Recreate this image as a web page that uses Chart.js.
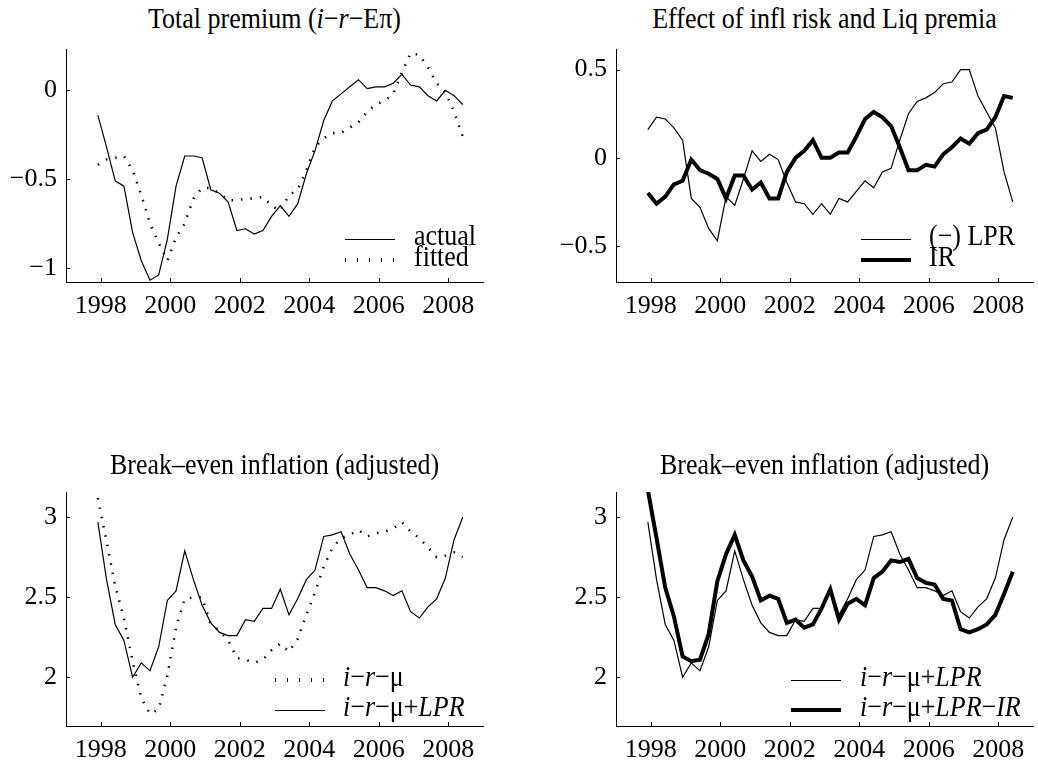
<!DOCTYPE html>
<html>
<head>
<meta charset="utf-8">
<script src="https://cdn.jsdelivr.net/npm/chart.js@4.4.0/dist/chart.umd.min.js"></script>
<style>
body{margin:0;background:#fff;width:1038px;height:765px;position:relative;overflow:hidden;
  font-family:"Liberation Serif","Times New Roman",serif;color:#000;}
canvas{position:absolute;}
.title,.leg{position:absolute;font-size:26px;line-height:26px;white-space:nowrap;transform-origin:50% 80%;}
.title{transform:translateX(-50%) scaleY(1.12);}
.leg{transform:scaleY(1.12);}
.sample{position:absolute;width:50px;}
i{font-style:italic;}
</style>
</head>
<body>
<script>
// quarterly observations, 1997Q4 .. 2008Q2
const quarters = ['1997Q4',
  '1998Q1','1998Q2','1998Q3','1998Q4','1999Q1','1999Q2','1999Q3','1999Q4',
  '2000Q1','2000Q2','2000Q3','2000Q4','2001Q1','2001Q2','2001Q3','2001Q4',
  '2002Q1','2002Q2','2002Q3','2002Q4','2003Q1','2003Q2','2003Q3','2003Q4',
  '2004Q1','2004Q2','2004Q3','2004Q4','2005Q1','2005Q2','2005Q3','2005Q4',
  '2006Q1','2006Q2','2006Q3','2006Q4','2007Q1','2007Q2','2007Q3','2007Q4',
  '2008Q1','2008Q2'];

// total premium i-r-Epi
const actual = [-0.14,-0.32,-0.51,-0.54,-0.80,-0.96,-1.07,-1.04,-0.84,-0.54,
  -0.37,-0.37,-0.38,-0.56,-0.58,-0.63,-0.79,-0.78,-0.81,-0.79,
  -0.71,-0.65,-0.71,-0.64,-0.47,-0.34,-0.17,-0.06,-0.02,0.02,
  0.06,0.01,0.02,0.02,0.04,0.09,0.03,0.02,-0.03,-0.06,
  0.00,-0.03,-0.08];
const fitted = [-0.42,-0.39,-0.38,-0.37,-0.45,-0.59,-0.75,-0.86,-0.96,-0.83,
  -0.75,-0.61,-0.55,-0.55,-0.58,-0.62,-0.62,-0.61,-0.61,-0.60,
  -0.65,-0.68,-0.59,-0.56,-0.45,-0.32,-0.27,-0.24,-0.24,-0.21,
  -0.18,-0.12,-0.08,-0.06,-0.02,0.10,0.21,0.20,0.13,0.04,
  -0.01,-0.12,-0.26];

// (-) liquidity premium and inflation risk premium
const negLPR = [0.16,0.23,0.22,0.17,0.10,-0.23,-0.28,-0.40,-0.47,-0.22,
  -0.27,-0.12,0.04,-0.02,0.02,-0.01,-0.14,-0.25,-0.26,-0.32,
  -0.26,-0.32,-0.23,-0.25,-0.19,-0.13,-0.17,-0.08,-0.06,0.10,
  0.25,0.32,0.34,0.37,0.42,0.43,0.50,0.50,0.35,0.26,
  0.17,-0.08,-0.25];
const infRisk = [-0.20,-0.26,-0.22,-0.15,-0.13,-0.01,-0.07,-0.09,-0.12,-0.23,
  -0.10,-0.10,-0.18,-0.14,-0.23,-0.23,-0.08,0.00,0.04,0.10,
  0.00,0.00,0.03,0.03,0.12,0.22,0.26,0.23,0.18,0.06,
  -0.07,-0.07,-0.04,-0.05,0.02,0.06,0.11,0.08,0.14,0.16,
  0.23,0.35,0.34];

// break-even inflation variants
const beMu = [3.12,2.85,2.57,2.37,2.10,1.87,1.77,1.80,2.01,2.31,
  2.49,2.50,2.50,2.33,2.29,2.23,2.12,2.11,2.09,2.11,
  2.17,2.21,2.16,2.24,2.39,2.53,2.69,2.81,2.87,2.89,
  2.92,2.88,2.90,2.91,2.93,2.97,2.91,2.87,2.81,2.75,
  2.76,2.78,2.75];
const beLPR = [2.97,2.61,2.33,2.23,2.00,2.09,2.04,2.19,2.48,2.54,
  2.79,2.61,2.45,2.34,2.28,2.26,2.26,2.36,2.35,2.43,
  2.43,2.55,2.39,2.49,2.61,2.67,2.88,2.89,2.91,2.77,
  2.67,2.56,2.56,2.54,2.51,2.54,2.41,2.37,2.44,2.49,
  2.62,2.86,3.00];
const beLPRIR = [3.17,2.87,2.56,2.38,2.13,2.10,2.11,2.27,2.60,2.77,
  2.89,2.73,2.63,2.48,2.51,2.49,2.34,2.36,2.31,2.33,
  2.43,2.55,2.36,2.46,2.49,2.45,2.62,2.66,2.73,2.72,
  2.74,2.62,2.59,2.58,2.49,2.48,2.30,2.28,2.30,2.33,
  2.39,2.52,2.66];

const yearTicks = [1998, 2000, 2002, 2004, 2006, 2008];
const premTicks = [-1, -0.5, 0];
const effectTicks = [-0.5, 0, 0.5];
const beTicks = [2, 2.5, 3];

const FONT = '"Liberation Serif","Times New Roman",serif';

function qToYear(q){
  const y = +q.slice(0,4), n = +q.slice(5);
  return y + (3*n - 1)/12;
}
const xs = quarters.map(qToYear);
const pts = ys => ys.map((y,i)=>({x:xs[i], y}));

const thin = ys => ({data:pts(ys), borderColor:'#000', borderWidth:1.2});
const thick = ys => ({data:pts(ys), borderColor:'#000', borderWidth:4});
const dotted = ys => ({data:pts(ys), borderColor:'#000', borderWidth:2.5, borderDash:[1.5,8], borderCapStyle:'butt'});

// matlab-style ticks pointing into the axes
const inwardTicks = {
  id:'inwardTicks',
  afterDraw(chart){
    const {ctx, chartArea:a, scales:{x, y}} = chart;
    ctx.save();
    ctx.strokeStyle = '#000'; ctx.lineWidth = 1;
    ctx.beginPath();
    x.ticks.forEach(t=>{
      const px = Math.round(x.getPixelForValue(t.value)) + 0.5;
      ctx.moveTo(px, a.bottom); ctx.lineTo(px, a.bottom - 4);
    });
    y.ticks.forEach(t=>{
      const py = Math.round(y.getPixelForValue(t.value)) + 0.5;
      ctx.moveTo(a.left, py); ctx.lineTo(a.left + 4, py);
    });
    ctx.stroke();
    ctx.restore();
  }
};

function panel(box, yMin, yMax, yTicks, datasets){
  const L = 66, T = 12, R = 5, B = 40;
  const w = box.r - box.l + L + R, h = box.b - box.t + T + B;
  const cv = document.createElement('canvas');
  cv.width = w; cv.height = h;
  cv.style.left = (box.l - L) + 'px'; cv.style.top = (box.t - T) + 'px';
  cv.style.width = w + 'px'; cv.style.height = h + 'px';
  document.body.appendChild(cv);
  const tickFont = {family:FONT, size:26};
  new Chart(cv.getContext('2d'), {
    type:'line',
    data:{datasets},
    options:{
      responsive:false, animation:false, devicePixelRatio:1,
      layout:{padding:{top:T, right:R, left:0, bottom:0}},
      plugins:{legend:{display:false}, tooltip:{enabled:false}},
      elements:{point:{radius:0}, line:{tension:0}},
      scales:{
        x:{type:'linear', min:1997, max:2009,
          afterBuildTicks: s => { s.ticks = yearTicks.map(v=>({value:v})); },
          afterFit: s => { s.height = B; s.paddingLeft = 0; s.paddingRight = 0; },
          grid:{display:false, drawTicks:false},
          border:{display:true, color:'#000', width:1},
          ticks:{color:'#000', font:tickFont, padding:9, maxRotation:0, autoSkip:false,
            callback: v => String(v)}},
        y:{type:'linear', min:yMin, max:yMax,
          afterBuildTicks: s => { s.ticks = yTicks.map(v=>({value:v})); },
          afterFit: s => { s.width = L; s.paddingTop = 0; s.paddingBottom = 0; },
          grid:{display:false, drawTicks:false},
          border:{display:true, color:'#000', width:1},
          ticks:{color:'#000', font:tickFont, padding:9,
            callback: v => String(v).replace('-', '\u2212')}}
      }
    },
    plugins:[inwardTicks]
  });
}

function title(cx, baseline, html){
  const d = document.createElement('div');
  d.className = 'title';
  d.style.left = cx + 'px'; d.style.top = (baseline - 21.8) + 'px';
  d.innerHTML = html;
  document.body.appendChild(d);
}

function legendRow(x, y, textX, kind, html){
  const s = document.createElement('div');
  s.className = 'sample';
  if(kind === 'dotted'){
    s.style.height = '4px'; s.style.top = (y - 2) + 'px';
    s.style.background = 'repeating-linear-gradient(to right,#000 0 1.5px,transparent 1.5px 12px)';
  }else{
    const hh = kind === 'thick' ? 4 : 1;
    s.style.height = hh + 'px'; s.style.top = (y - hh/2) + 'px'; s.style.background = '#000';
  }
  s.style.left = x + 'px';
  document.body.appendChild(s);
  const t = document.createElement('div');
  t.className = 'leg';
  t.style.left = textX + 'px'; t.style.top = (y + 7 - 21.8) + 'px';
  t.innerHTML = html;
  document.body.appendChild(t);
}

const P1 = {l:66, t:49, r:483, b:282};
const P2 = {l:616, t:49, r:1033, b:282};
const P3 = {l:66, t:492, r:483, b:726};
const P4 = {l:616, t:492, r:1033, b:726};

panel(P1, -1.08, 0.233, premTicks, [thin(actual), dotted(fitted)]);
panel(P2, -0.704, 0.617, effectTicks, [thick(infRisk), thin(negLPR)]);
panel(P3, 1.695, 3.158, beTicks, [thin(beLPR), dotted(beMu)]);
panel(P4, 1.695, 3.158, beTicks, [thick(beLPRIR), thin(beLPR)]);

const irm = '<i>i</i>\u2212<i>r</i>\u2212\u03bc';
title(274.5, 29, 'Total premium (<i>i</i>\u2212<i>r</i>\u2212E\u03c0)');
title(824.5, 29, 'Effect of infl risk and Liq premia');
title(274.5, 475, 'Break\u2013even inflation (adjusted)');
title(824.5, 475, 'Break\u2013even inflation (adjusted)');

legendRow(345, 239, 414, 'thin', 'actual');
legendRow(345, 260, 414, 'dotted', 'fitted');
legendRow(861, 239, 929, 'thin', '(\u2212) LPR');
legendRow(861, 260, 929, 'thick', 'IR');
legendRow(275, 680, 343, 'dotted', irm);
legendRow(275, 710, 343, 'thin', irm + '+<i>LPR</i>');
legendRow(791, 680, 860, 'thin', irm + '+<i>LPR</i>');
legendRow(791, 710, 860, 'thick', irm + '+<i>LPR</i>\u2212<i>IR</i>');
</script>
</body>
</html>
